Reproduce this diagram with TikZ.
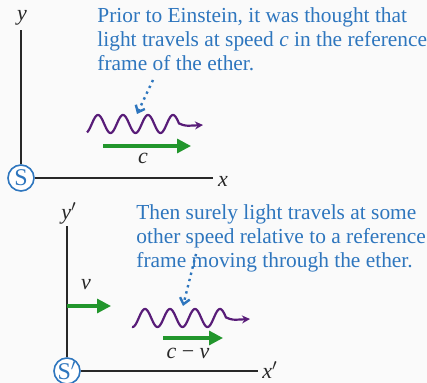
\documentclass[tikz,border=0pt]{standalone}
\usepackage{fontspec}
\setmainfont{Liberation Serif}
\usepackage{xcolor}
\usepackage{tikz}
\usetikzlibrary{arrows.meta}
\usetikzlibrary{positioning}

\definecolor{notetext}{RGB}{46,118,190}
\definecolor{wavecol}{RGB}{88,28,120}
\definecolor{velcol}{RGB}{34,150,44}
\definecolor{axiscol}{RGB}{40,40,40}

\tikzset{
  axis/.style={draw=axiscol, line width=0.9pt},
  framelbl/.style={circle, draw=notetext, fill=white, line width=0.8pt, minimum size=13pt, inner sep=0pt, text=notetext, font=\fontsize{12}{12}\selectfont},
  note/.style={text=notetext, align=left, inner sep=0pt, font=\fontsize{10.7}{12}\selectfont},
  lbl/.style={inner sep=0pt, text=axiscol, font=\fontsize{11}{12}\selectfont\itshape},
  wave/.style={draw=wavecol, line width=1.1pt, -{Stealth[length=4pt,width=4pt]}},
  vel/.style={draw=velcol, line width=1.6pt, -{Triangle[length=7pt,width=7pt]}},
  hint/.style={draw=notetext, line width=1.2pt, dotted, -{Straight Barb[length=3pt,width=5pt]}}
}

\begin{document}
\begin{tikzpicture}[x=0.5pt, y=-0.5pt]
  \fill[white!96!gray] (0,0) rectangle (427,383);
  \useasboundingbox (0,0) rectangle (427,383);

  % ===== frame S (ether) =====
  \node[framelbl] (S) at (21,178) {S};
  \node[lbl] (ylbl) at (22,18) {y};
  \node[lbl] (xlbl) at (223,181) {x};
  \coordinate (ytop) at (21,30);
  \coordinate (xend) at (213,178);
  \draw[axis] (S) -- (ytop);
  \draw[axis] (S) -- (xend);

  \node[note, anchor=north west] (noteA) at (97,7)
    {Prior to Einstein, it was thought that\\
     light travels at speed \textit{c} in the reference\\
     frame of the ether.};

  % light wave seen in S (period 25 -> 14.4 deg per unit)
  \draw[wave] plot[domain=87:179, samples=120, smooth]
    (\x, {124 - 9*sin((\x-98)*14.4 + 90)}) .. controls (185,126) .. (203,125);

  \coordinate (hintA1) at (153,80);
  \coordinate (hintA2) at (137,114);
  \draw[hint] (hintA1) -- (hintA2);

  \coordinate (cA1) at (103,146);
  \coordinate (cA2) at (191,146);
  \draw[vel] (cA1) -- (cA2);
  \node[lbl] (clbl) at (143,158) {c};

  % ===== frame S' (moving) =====
  \node[framelbl] (Sp) at (67,371) {S$'$};
  \node[lbl] (yplbl) at (69,213) {y$'$};
  \node[lbl] (xplbl) at (270,370) {x$'$};
  \coordinate (yptop) at (67,226);
  \coordinate (xpend) at (258,371);
  \draw[axis] (Sp) -- (yptop);
  \draw[axis] (Sp) -- (xpend);

  \coordinate (v1) at (67,306);
  \coordinate (v2) at (111,306);
  \draw[vel] (v1) -- (v2);
  \node[lbl] (vlbl) at (86,285) {v};

  \node[note, anchor=north west] (noteB) at (136,204)
    {Then surely light travels at some\\
     other speed relative to a reference\\
     frame moving through the ether.};

  % light wave seen in S'
  \draw[wave] plot[domain=132:226, samples=120, smooth]
    (\x, {318 - 9*sin((\x-145)*14.4 + 90)}) .. controls (232,320) .. (250,319);

  \coordinate (hintB1) at (196,254);
  \coordinate (hintB2) at (183,306);
  \draw[hint] (hintB1) -- (hintB2);

  \coordinate (cv1) at (163,338);
  \coordinate (cv2) at (223,338);
  \draw[vel] (cv1) -- (cv2);
  \node[lbl] (cvlbl) at (188,353) {c \upshape−\itshape{} v};
\end{tikzpicture}
\end{document}
